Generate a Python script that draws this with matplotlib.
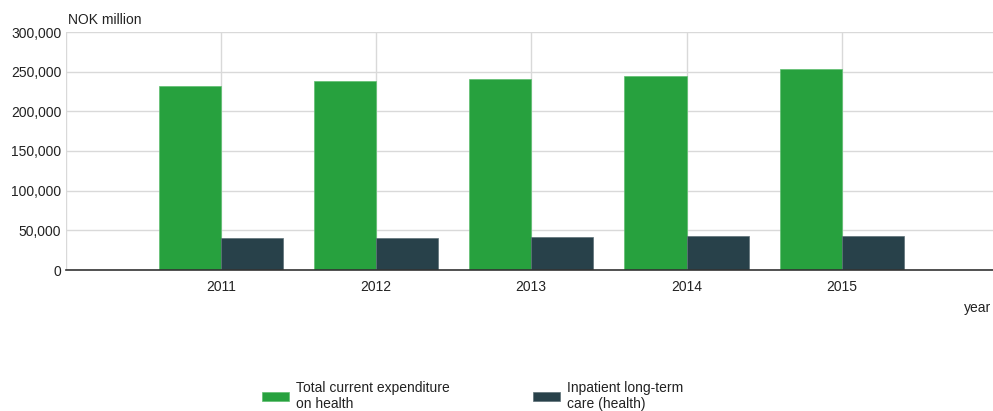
import matplotlib
matplotlib.use("Agg")
import matplotlib.pyplot as plt
from matplotlib.ticker import FuncFormatter

plt.rcParams['font.family'] = ['Liberation Sans', 'DejaVu Sans']

years = ["2011", "2012", "2013", "2014", "2015"]
total_expenditure = [231900, 237900, 240800, 244900, 253400]
long_term_care = [40000, 40100, 41600, 43200, 43300]
series_labels = ["Total current expenditure\non health", "Inpatient long-term\ncare (health)"]
colors = ["#27a13e", "#28414a"]

W, H = 993, 411
FS = 10
fig = plt.figure(figsize=(W / 100, H / 100), dpi=100)
ax = fig.add_axes([65.5 / W, (H - 270) / H, (997 - 65.5) / W, 238 / H])

pos = list(range(1, len(years) + 1))
bw = 0.4
b1 = ax.bar([p - bw / 2 for p in pos], total_expenditure, width=bw, color=colors[0],
            edgecolor="#5fbf70", linewidth=0.5, zorder=3)
b2 = ax.bar([p + bw / 2 for p in pos], long_term_care, width=bw, color=colors[1],
            edgecolor="#5d7077", linewidth=0.5, zorder=3)

ax.set_xlim(0, 6)
ax.set_ylim(0, 300000)
ax.set_yticks(range(0, 300001, 50000))
ax.yaxis.set_major_formatter(FuncFormatter(lambda v, _: f"{int(v):,}"))
ax.set_xticks(range(0, 7))
ax.set_xticklabels([""] + years + [""])
ax.grid(True, color="#d9d9d9", linewidth=1, zorder=0)
ax.tick_params(length=0, labelsize=FS, colors="#222222", pad=3)
ax.tick_params(axis="x", pad=7)
for side in ("left", "right", "top"):
    ax.spines[side].set_visible(False)
ax.spines["bottom"].set_color("#333333")
ax.spines["bottom"].set_linewidth(1.2)
ax.spines["bottom"].set_zorder(4)

fig.text(68 / W, 1 - 20 / H, "NOK million", fontsize=FS, color="#222222",
         ha="left", va="center")
fig.text(991 / W, 1 - 308 / H, "year", fontsize=FS, color="#222222",
         ha="right", va="center")

leg = fig.legend([b1, b2], series_labels, ncol=2, loc="center left",
                 bbox_to_anchor=(249 / W, 1 - 396 / H), frameon=False,
                 fontsize=FS, handlelength=1.95, handleheight=0.65,
                 handletextpad=0.5, columnspacing=6.0, labelcolor="#222222")

fig.savefig("out.png", dpi=100)
